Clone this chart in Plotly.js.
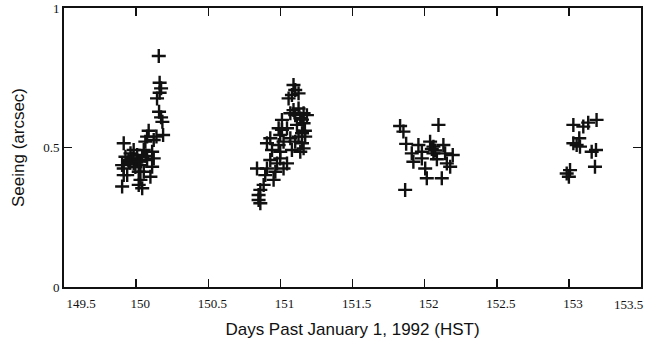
<!DOCTYPE html>
<html>
<head>
<meta charset="utf-8">
<script src="https://cdn.plot.ly/plotly-3.0.1.min.js"></script>
<style>html,body{margin:0;padding:0;background:#fff;}#chart{width:646px;height:340px;}</style>
</head>
<body>
<div id="chart"></div>
<script>
// Night 1 (~day 150)
const day1 = [150.157,150.163,150.173,150.163,150.145,150.159,150.173,150.182,150.087,150.141,150.187,150.076,150.064,150.122,149.914,149.983,149.961,150.007,149.926,150.053,150.042,150.111,150.122,149.949,149.903,149.983,150.030,150.111,150.018,150.099,149.914,149.938,150.030,150.018,150.042,149.903,149.972,150.007,149.914,150.076,150.053,149.947,149.960,149.995,150.020,150.065];
const seeing1 = [0.828,0.732,0.712,0.696,0.676,0.628,0.608,0.592,0.560,0.539,0.545,0.539,0.521,0.527,0.515,0.491,0.479,0.473,0.467,0.491,0.467,0.485,0.461,0.449,0.437,0.443,0.437,0.431,0.413,0.395,0.401,0.401,0.384,0.366,0.354,0.360,0.461,0.455,0.425,0.455,0.413,0.455,0.445,0.430,0.450,0.470];
// Night 2 (~day 151)
const day2 = [151.091,151.103,151.080,151.126,151.057,151.091,151.126,151.069,151.103,151.161,151.184,151.138,151.011,151.161,151.115,150.988,151.046,151.150,151.172,150.999,151.069,150.930,151.103,151.150,150.988,150.907,151.161,151.080,150.999,151.138,150.942,150.999,150.977,150.930,151.046,151.022,150.907,150.838,150.965,150.895,150.953,150.884,150.861,150.849,150.849,150.861,151.022,151.011,151.126,151.150,151.170];
const seeing2 = [0.724,0.706,0.688,0.694,0.676,0.634,0.640,0.623,0.616,0.623,0.616,0.605,0.599,0.587,0.581,0.569,0.569,0.551,0.539,0.545,0.533,0.533,0.521,0.515,0.509,0.515,0.497,0.491,0.485,0.485,0.491,0.461,0.443,0.455,0.443,0.425,0.425,0.425,0.413,0.401,0.384,0.366,0.348,0.330,0.312,0.300,0.521,0.563,0.539,0.600,0.560];
// Night 3 (~day 152)
const day3 = [151.830,151.853,152.096,151.872,151.957,152.038,152.061,152.130,151.911,151.981,152.061,152.142,152.195,151.922,151.981,152.085,152.154,152.177,152.004,152.015,152.119,151.865,152.050,152.073];
const seeing3 = [0.577,0.557,0.581,0.513,0.509,0.521,0.503,0.509,0.479,0.485,0.479,0.479,0.473,0.449,0.461,0.458,0.443,0.431,0.425,0.390,0.390,0.348,0.495,0.489];
// Night 4 (~day 153)
const day4 = [153.031,153.100,153.134,153.192,153.072,153.054,153.031,153.077,153.158,153.188,153.181,153.008,152.985,153.000];
const seeing4 = [0.581,0.575,0.589,0.599,0.533,0.509,0.515,0.503,0.485,0.491,0.431,0.419,0.407,0.395];

const xTicks = [149.5,150,150.5,151,151.5,152,152.5,153,153.5];
const xTickText = ['149.5','150','150.5','151','151.5','152','152.5','153','153.5'];
const yTicks = [0,0.5,1];
const yTickText = ['0','0.5','1'];

const days = day1.concat(day2, day3, day4);
const seeing = seeing1.concat(seeing2, seeing3, seeing4);

const last = xTickText.length - 1;
// the edge labels sit inside the frame in the original
const FS = '\u2007\u2007\u2007\u2007';
const xLabels = xTickText.map((t, i) => i === 0 ? FS + t : (i === last ? '' : t));

const trace = {
  x: days, y: seeing, type: 'scatter', mode: 'markers',
  marker: {symbol: 'cross-thin', size: 10, color: '#111', line: {color: '#111', width: 2.4}},
  hoverinfo: 'x+y', showlegend: false
};

const serif = "'Liberation Serif', 'Times New Roman', Times, serif";
const sans = "'Liberation Sans', Arial, sans-serif";

const layout = {
  width: 646, height: 340,
  margin: {l: 64, r: 5, t: 8, b: 53},
  paper_bgcolor: '#fff', plot_bgcolor: '#fff',
  xaxis: {
    range: [149.5, 153.5], tickvals: xTicks, ticktext: xLabels,
    ticks: 'inside', ticklen: 8, tickwidth: 1.5, tickcolor: '#111',
    showline: true, linecolor: '#111', linewidth: 2, mirror: 'ticks',
    showgrid: false, zeroline: false,
    ticklabelstandoff: 3, ticklabelshift: 4, ticklabeloverflow: 'allow',
    tickfont: {family: serif, size: 13, color: '#111'},
    title: {text: 'Days Past January 1, 1992 (HST)', standoff: 14,
            font: {family: sans, size: 17, color: '#111'}}
  },
  yaxis: {
    range: [0, 1], tickvals: yTicks, ticktext: yTickText,
    ticks: 'inside', ticklen: 8, tickwidth: 1.5, tickcolor: '#111',
    showline: true, linecolor: '#111', linewidth: 2, mirror: 'ticks',
    showgrid: false, zeroline: false,
    tickfont: {family: serif, size: 13, color: '#111'},
    title: {text: 'Seeing (arcsec)', standoff: 14,
            font: {family: sans, size: 17, color: '#111'}}
  },
  annotations: [{
    x: xTicks[last], y: 0, xref: 'x', yref: 'y',
    text: xTickText[last], showarrow: false,
    xanchor: 'right', yanchor: 'top', xshift: 4, yshift: -8,
    font: {family: serif, size: 13, color: '#111'}
  }]
};

Plotly.newPlot('chart', [trace], layout, {displayModeBar: false, staticPlot: true});
</script>
</body>
</html>
